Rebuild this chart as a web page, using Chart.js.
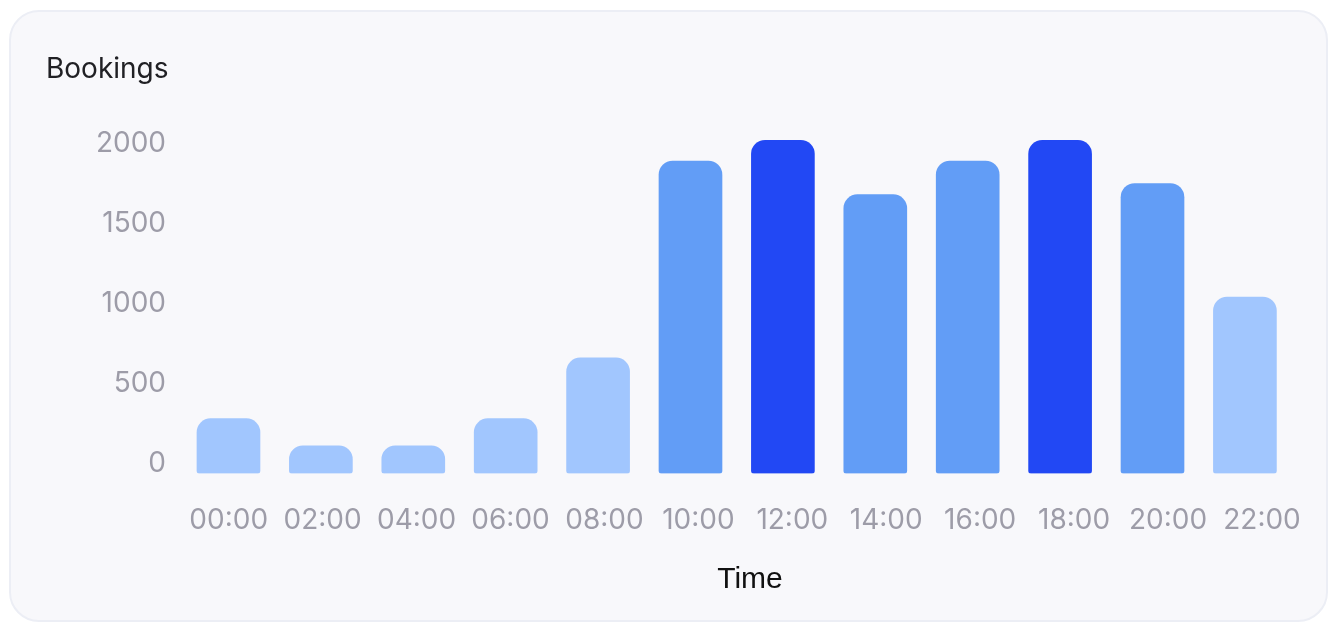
<!DOCTYPE html>
<html>
<head>
<meta charset="utf-8">
<script src="https://cdn.jsdelivr.net/npm/chart.js@4/dist/chart.umd.min.js"></script>
<style>
  html, body { margin: 0; padding: 0; background: #ffffff; }
  body { width: 1331px; height: 624px; position: relative; overflow: hidden; }
  .card {
    position: absolute; left: 9px; top: 10px; width: 1315px; height: 608px;
    background: #f8f8fb; border: 2px solid #eceef5; border-radius: 30px;
  }
  #wrap { position: absolute; left: 0; top: 0; width: 1331px; height: 624px; }
</style>
</head>
<body>
<div class="card"></div>
<div id="wrap"><canvas id="chart" width="1331" height="624"></canvas></div>
<script>
// Hourly bookings, one bar every two hours
const hours = ['00:00', '02:00', '04:00', '06:00', '08:00', '10:00', '12:00', '14:00', '16:00', '18:00', '20:00', '22:00'];
const bookings = [280, 110, 110, 280, 660, 1890, 2020, 1680, 1890, 2020, 1750, 1040];
const yTicks = [0, 500, 1000, 1500, 2000];

const LIGHT = '#a1c6fe', MID = '#629df6', DARK = '#2248f4';
const shade = v => v >= 2000 ? DARK : (v >= 1500 ? MID : LIGHT);

const Y_MIN = -62.5; // bars start a little below the zero line
const tickFont = { family: 'Inter', size: 28 };
const tickColor = '#9d9ca8';
const hourTicks = s => { s.ticks = hours.map((_, i) => ({ value: i })); };

new Chart(document.getElementById('chart'), {
  type: 'bar',
  data: {
    datasets: [{
      data: bookings.map((v, i) => ({ x: i, y: v })),
      backgroundColor: bookings.map(shade),
      borderWidth: 0,
      borderSkipped: false,
      borderRadius: { topLeft: 14, topRight: 14, bottomLeft: 3, bottomRight: 3 },
      barThickness: 63,
      base: Y_MIN,
      xAxisID: 'x',
      yAxisID: 'y'
    }]
  },
  options: {
    responsive: false,
    animation: false,
    layout: { padding: { left: 46, right: 13, top: 0, bottom: 26 } },
    plugins: {
      legend: { display: false },
      tooltip: { enabled: false },
      title: {
        display: true,
        text: 'Bookings',
        align: 'start',
        color: '#202024',
        font: { family: 'Inter', size: 28, weight: 'normal' },
        padding: { top: 52.8, bottom: 41.1 }
      }
    },
    scales: {
      // axis that places the bars
      x: {
        type: 'linear',
        display: false,
        offset: false,
        min: -0.503,
        max: 11.791,
        afterBuildTicks: hourTicks
      },
      // axis that carries the hour labels and the axis title
      xl: {
        type: 'linear',
        position: 'bottom',
        offset: false,
        min: -0.497,
        max: 11.596,
        afterBuildTicks: hourTicks,
        grid: { display: true, drawOnChartArea: false, drawTicks: true, tickLength: 30.2, color: 'rgba(0,0,0,0)' },
        border: { display: false },
        ticks: {
          autoSkip: false,
          maxRotation: 0,
          padding: 0,
          font: tickFont,
          color: tickColor,
          callback: v => hours[v] ?? ''
        },
        title: {
          display: true,
          text: 'Time',
          color: '#111111',
          font: { family: 'Liberation Sans', size: 30 },
          padding: { top: 24.7, bottom: 0 }
        }
      },
      y: {
        type: 'linear',
        min: Y_MIN,
        max: 2100,
        afterBuildTicks: s => { s.ticks = yTicks.map(v => ({ value: v })); },
        afterFit: s => { s.width = 136; },
        grid: { display: false, drawTicks: false },
        border: { display: false },
        ticks: { padding: 16, font: tickFont, color: tickColor, callback: v => String(v) }
      }
    }
  }
});
</script>
</body>
</html>
